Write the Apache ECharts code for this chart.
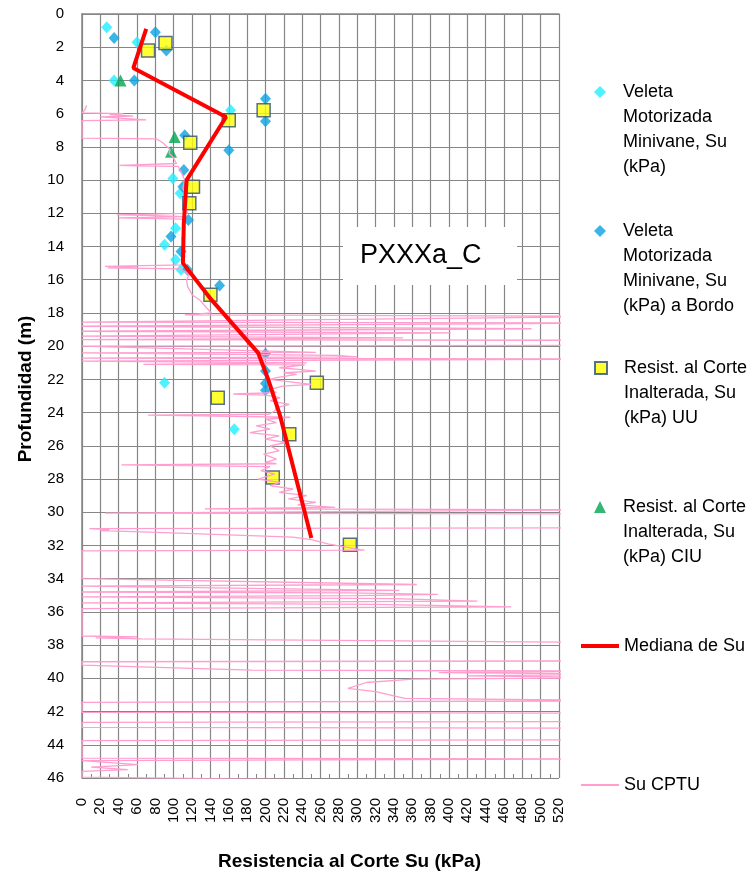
<!DOCTYPE html>
<html><head><meta charset="utf-8">
<script src="https://cdn.jsdelivr.net/npm/echarts@6/dist/echarts.min.js"></script>
<style>html,body{margin:0;padding:0;background:#fff}#c{width:755px;height:876px}</style>
</head><body><div id="c"></div>
<script>
// ---- Data (Su in kPa, depth in m) ----
const veletaSu    = [27, 60, 35, 162, 99, 107, 102, 90, 102, 108, 90, 166];
const veletaDepth = [0.8, 1.7, 4.0, 5.8, 9.9, 10.8, 12.9, 13.9, 14.8, 15.4, 22.2, 25.0];

const bordoSu    = [35, 80, 92, 57, 200, 200, 112, 160, 111, 110, 116, 97, 108, 115, 150, 200, 200, 200, 200];
const bordoDepth = [1.45, 1.1, 2.2, 4.0, 5.1, 6.45, 7.3, 8.2, 9.4, 10.4, 12.4, 13.4, 14.3, 15.4, 16.35, 20.45, 21.5, 22.25, 22.65];

const uuSu    = [91, 72, 198, 160, 118, 121, 117, 140, 256, 148, 226, 208, 292];
const uuDepth = [1.75, 2.2, 5.8, 6.4, 7.75, 10.4, 11.4, 16.9, 22.2, 23.1, 25.3, 27.9, 31.95];

const ciuSu    = [42, 101, 97];
const ciuDepth = [4.0, 7.4, 8.3];

const medSu    = [70, 56, 157, 114, 111, 110, 141, 192, 203, 216, 250];
const medDepth = [0.9, 3.25, 6.2, 10.0, 12.6, 15.0, 17.2, 20.4, 22.0, 24.2, 31.55];

const cptuSu = [
  5,3,0,45,30,56,20,70,0,0,81,85,88,92,96,95,99,103,41,60,105,
  108,112,110,114,112,115,38,70,112,40,110,111,109,111,112,110,25,60,28,108,117,114,115,120,128,136,141,112,
  600,0,600,0,490,0,402,0,350,0,600,600,0,255,0,277,300,0,600,600,0,245,67,243,215,236,255,220,234,212,205,
  220,250,219,205,212,165,200,216,205,226,212,210,204,72,130,227,200,212,190,205,183,215,200,222,205,215,198,212,200,212,43,90,205,195,210,192,216,205,230,215,245,225,255,235,276,134,600,600,25,600,600,8,30,20,74,230,250,268,303,308,0,
  0,365,0,346,0,290,388,300,0,340,431,0,320,468,0,0,60,15,65,600,600,0,0,185,600,389,600,420,600,361,310,290,320,340,352,600,600,0,0,600,600,0,0,600,600,0,0,600,600,0,61,10,50,0,0,236
];
const cptuDepth = [
  5.5,5.8,5.95,6.0,6.05,6.15,6.2,6.38,6.42,7.47,7.52,7.65,7.75,7.95,8.15,8.4,8.6,9.0,9.12,9.15,9.18,
  9.5,10.0,10.5,11.0,11.5,12.0,12.1,12.13,12.2,12.28,12.35,13.0,13.5,14.0,14.6,15.1,15.2,15.23,15.28,15.35,15.7,16.0,16.4,16.9,17.2,17.7,18.0,18.12,
  18.2,18.55,18.6,18.8,18.95,19.1,19.2,19.4,19.5,19.6,19.65,19.95,20.0,20.37,20.4,20.55,20.65,20.72,20.78,20.85,20.9,21.0,21.1,21.12,21.3,21.4,21.5,21.6,21.7,21.9,22.0,
  22.1,22.3,22.4,22.6,22.8,22.88,22.95,23.1,23.3,23.5,23.7,23.9,24.1,24.15,24.2,24.28,24.4,24.6,24.8,25.0,25.2,25.4,25.6,25.8,26.0,26.3,26.5,26.8,27.0,27.08,27.15,27.18,27.25,27.5,27.7,28.0,28.2,28.4,28.6,28.8,29.0,29.2,29.4,29.55,29.7,29.8,29.85,29.95,30.05,30.1,30.93,30.98,31.05,31.1,31.2,31.5,31.65,31.9,32.25,32.28,32.32,
  34.0,34.35,34.45,34.7,34.8,34.85,34.95,35.02,35.1,35.2,35.35,35.45,35.55,35.7,35.8,37.45,37.5,37.56,37.62,37.85,38.95,39.0,39.2,39.5,39.57,39.65,39.75,39.85,39.95,40.05,40.25,40.6,40.8,41.05,41.2,41.35,41.4,41.45,42.05,42.1,42.6,42.65,42.95,43.0,43.7,43.75,44.8,44.85,44.9,44.95,45.2,45.35,45.5,45.6,45.95,46.1
];

const seriesNames = [
  'Veleta Motorizada Minivane, Su (kPa)',
  'Veleta Motorizada Minivane, Su (kPa) a Bordo',
  'Resist. al Corte Inalterada, Su (kPa) UU',
  'Resist. al Corte Inalterada, Su (kPa) CIU',
  'Mediana de Su',
  'Su CPTU'
];
const legendLines = [
  ['Veleta', 'Motorizada', 'Minivane, Su', '(kPa)'],
  ['Veleta', 'Motorizada', 'Minivane, Su', '(kPa) a Bordo'],
  ['Resist. al Corte', 'Inalterada, Su', '(kPa) UU'],
  ['Resist. al Corte', 'Inalterada, Su', '(kPa) CIU'],
  ['Mediana de Su'],
  ['Su CPTU']
];
const chartLabel = 'PXXXa_C';

// ---- helpers ----
const zip = (xs, ys) => xs.map((x, i) => [x, ys[i]]);
const FONT = 'Liberation Sans';
const LH = 25;

function mkLegend(i, iconY, icon, left, w, h, padLeft) {
  const lines = legendLines[i];
  const n = lines.length;
  const blockH = (2 * n - 1) * LH;
  return {
    orient: 'vertical', left: left, top: iconY - blockH / 2, padding: 0,
    itemWidth: w, itemHeight: h, selectedMode: false,
    data: [{ name: seriesNames[i], icon: icon }],
    formatter: () => '\n'.repeat(n - 1) + lines.join('\n'),
    textStyle: { fontFamily: FONT, fontSize: 18, color: '#000', lineHeight: LH, padding: [0, 0, 0, padLeft] }
  };
}

const chart = echarts.init(document.getElementById('c'), null, { renderer: 'canvas' });
const gridColor = '#868686';
chart.setOption({
  backgroundColor: '#fff',
  animation: false,
  grid: { left: 82, right: 196, top: 14, bottom: 98, containLabel: false },
  xAxis: [{
    type: 'value', min: 0, max: 520, interval: 20, position: 'bottom',
    name: 'Resistencia al Corte Su (kPa)', nameLocation: 'middle', nameGap: 74,
    nameTextStyle: { fontFamily: FONT, fontSize: 19, fontWeight: 'bold', color: '#000', padding: [0, 0, 0, 58] },
    axisLine: { show: true, lineStyle: { color: gridColor, width: 1.5 } },
    axisTick: { show: false },
    axisLabel: { rotate: 90, margin: 20, fontFamily: FONT, fontSize: 15, color: '#000' },
    splitLine: { show: true, lineStyle: { color: gridColor, width: 1.2 } }
  }, {
    type: 'value', min: 0, max: 520, interval: 10, position: 'bottom', gridIndex: 0,
    axisLine: { show: false }, axisLabel: { show: false }, splitLine: { show: false },
    axisTick: { show: true, inside: true, length: 4, lineStyle: { color: gridColor } }
  }],
  yAxis: {
    type: 'value', min: 0, max: 46, interval: 2, inverse: true,
    name: 'Profundidad (m)', nameLocation: 'middle', nameGap: 47, nameRotate: 90,
    nameTextStyle: { fontFamily: FONT, fontSize: 19, fontWeight: 'bold', color: '#000', padding: [0, 0, 0, 14] },
    axisLine: { show: true, lineStyle: { color: gridColor, width: 1.5 } },
    axisTick: { show: false },
    axisLabel: { margin: 18, fontFamily: FONT, fontSize: 15, color: '#000' },
    splitLine: { show: true, lineStyle: { color: gridColor, width: 1.2 } }
  },
  legend: [
    mkLegend(0, 92, 'diamond', 594, 12, 12, 12),
    mkLegend(1, 231, 'diamond', 594, 12, 12, 12),
    mkLegend(2, 368, 'rect', 594, 12, 12, 12),
    mkLegend(3, 507, 'triangle', 594, 12, 12, 12),
    mkLegend(4, 646, 'rect', 581, 38, 4, 0),
    mkLegend(5, 785, 'rect', 581, 38, 2, 0)
  ],
  graphic: [
    { type: 'rect', z: 100, shape: { x: 343, y: 227, width: 174, height: 58 }, style: { fill: '#fff' } },
    { type: 'text', z: 101, left: 360, top: 242, style: { text: chartLabel, fontFamily: FONT, fontSize: 27, fill: '#000' } }
  ],
  series: [
    { name: seriesNames[5], type: 'line', data: zip(cptuSu, cptuDepth), showSymbol: false, symbol: 'none',
      lineStyle: { color: '#FF9ECF', width: 1.3 }, itemStyle: { color: '#FF9ECF' }, clip: true },
    { name: seriesNames[4], type: 'line', data: zip(medSu, medDepth), showSymbol: false, symbol: 'none',
      lineStyle: { color: '#FF0000', width: 4 }, itemStyle: { color: '#FF0000' } },
    { name: seriesNames[0], type: 'scatter', data: zip(veletaSu, veletaDepth), symbol: 'diamond', symbolSize: [11, 12],
      itemStyle: { color: '#22EEFF' } },
    { name: seriesNames[1], type: 'scatter', data: zip(bordoSu, bordoDepth), symbol: 'diamond', symbolSize: [11, 12],
      itemStyle: { color: '#0AA2E2' } },
    { name: seriesNames[2], type: 'scatter', data: zip(uuSu, uuDepth), symbol: 'rect', symbolSize: 13,
      itemStyle: { color: '#FFFF00', borderColor: '#2D4D7A', borderWidth: 1.5 } },
    { name: seriesNames[3], type: 'scatter', data: zip(ciuSu, ciuDepth), symbol: 'triangle', symbolSize: 12,
      itemStyle: { color: '#00A550' } }
  ]
});
</script></body></html>
